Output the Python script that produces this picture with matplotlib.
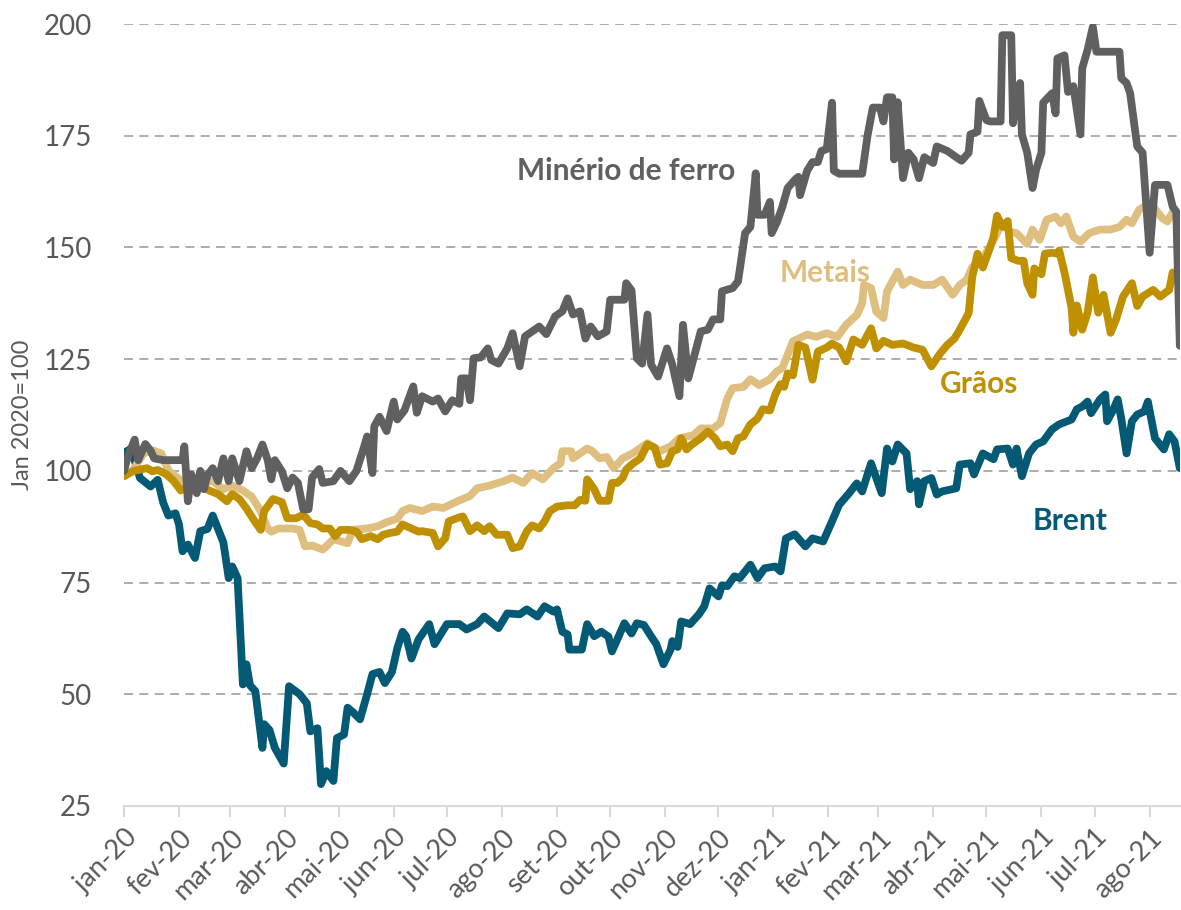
import pandas as pd
import matplotlib.pyplot as plt

plt.rcParams['font.family'] = ['Lato', 'DejaVu Sans']

# (days since 1 jan 2020, index Jan 2020 = 100)
brent = [
    (0, 104), (4, 105), (9, 98.4), (15, 96.5), (19, 98), (22, 93), (25, 90), (29, 90.5),
    (31, 88), (33, 82), (36, 83.5), (40, 80.5), (43, 86.5), (47, 87), (50, 90), (52, 88),
    (56, 84), (59, 76), (61, 78.6), (64, 76), (67, 52.2), (69, 56.7), (71, 52), (74, 50.7),
    (78, 38), (79, 43.3), (82, 42), (85, 38), (90, 34.5), (93, 51.8), (99, 50), (103, 48),
    (105, 41.7), (109, 42.4), (111, 29.9), (114, 32.8), (118, 30.6), (120, 40.2), (124, 41),
    (126, 47), (129, 46), (133, 44.4), (137, 50), (140, 54.5), (144, 55), (147, 52.5),
    (151, 55), (154, 60.3), (157, 64), (159, 63), (162, 58), (166, 62.3), (172, 65.7),
    (175, 61.2), (182, 65.7), (189, 65.7), (193, 64.5), (199, 65.7), (203, 67.4), (211, 64.8),
    (216, 68.1), (223, 67.9), (227, 69), (233, 67.4), (237, 69.7), (242, 68.5), (244, 69),
    (247, 64), (250, 63.4), (251, 60), (258, 60), (261, 65.7), (265, 63), (269, 64),
    (273, 62.9), (275, 59.6), (282, 65.9), (286, 63.6), (289, 65.9), (293, 65.5), (297, 63),
    (300, 61.2), (304, 56.7), (308, 60), (309, 61.9), (312, 60.6), (314, 66.3), (319, 65.7),
    (324, 67.9), (327, 69.7), (330, 73.7), (335, 71.9), (337, 74.4), (340, 74.2), (344, 76.4),
    (347, 76), (353, 79), (357, 76), (361, 78.2), (367, 78.6), (370, 77.5), (373, 84.9),
    (378, 85.8), (384, 83.1), (388, 84.9), (394, 84.2), (399, 88.7), (403, 92.4), (408, 94.7),
    (413, 97.2), (416, 95.4), (421, 101.7), (427, 95), (430, 105), (433, 102.1), (436, 105.9),
    (441, 103.9), (443, 95.9), (447, 97.7), (448, 92.5), (451, 97.7), (455, 98.4), (458, 94.7),
    (461, 95.4), (469, 96.1), (471, 101.4), (477, 101.7), (479, 99.2), (484, 103.9),
    (490, 102.6), (492, 104.8), (498, 105), (501, 101.4), (503, 105), (506, 98.8),
    (510, 103.9), (514, 105.9), (518, 106.6), (523, 109.3), (527, 110.4), (534, 111.5),
    (537, 113.8), (540, 114.4), (543, 115.5), (545, 112.9), (550, 116), (553, 117.1),
    (554, 111.1), (557, 113.3), (560, 116), (562, 111.7), (565, 103.9), (568, 111.1),
    (571, 112.6), (575, 113.3), (577, 115.5), (581, 107.3), (586, 104.8), (589, 108.2),
    (592, 106.6), (595, 100.6),
]

minerio = [
    (0, 100), (2, 103), (6, 107), (8, 102.4), (12, 106), (15, 104.5), (17, 102.8), (22, 102.4),
    (33, 102.4), (34, 105.5), (36, 93.2), (38, 99.2), (41, 95), (43, 100), (45, 95.9), (47, 99),
    (50, 100.6), (53, 97.7), (56, 102.8), (59, 97.7), (61, 102.8), (65, 97.7), (69, 104.4),
    (72, 100.6), (75, 102.8), (78, 105.9), (81, 102.4), (83, 98.1), (85, 102.4), (89, 99.9),
    (92, 96.1), (95, 98.5), (98, 97.3), (101, 91.4), (104, 91.4), (106, 98.5), (110, 100.4),
    (112, 97.3), (118, 97.7), (122, 100), (127, 97.7), (131, 100), (135, 105), (137, 107.7),
    (140, 99.5), (141, 109.9), (144, 112.1), (148, 108.9), (152, 115.5), (154, 111.5),
    (158, 113.5), (163, 118.9), (165, 113), (168, 116.7), (174, 115.5), (177, 116.2),
    (181, 113.3), (185, 115.8), (189, 115), (190, 120.7), (193, 120.7), (195, 115.8),
    (197, 125.2), (201, 125.4), (205, 127.4), (207, 124.8), (211, 124), (216, 127.4),
    (219, 130.8), (223, 123.4), (226, 130.1), (230, 131.2), (234, 132.3), (238, 130.6),
    (243, 134.6), (247, 135.7), (250, 138.6), (253, 135), (257, 135.7), (260, 129.6),
    (263, 132.3), (267, 130.1), (272, 131.2), (274, 138.3), (282, 138.3), (283, 142),
    (286, 140.4), (289, 125.2), (292, 124), (295, 135), (297, 123.8), (301, 121.1),
    (306, 127.4), (309, 123.8), (313, 116.7), (315, 132.7), (318, 120.7), (321, 125.2),
    (325, 131.2), (329, 131.6), (332, 133.9), (336, 133.9), (337, 140.2), (343, 140.9),
    (346, 142.4), (347, 145), (350, 153.2), (353, 154.6), (356, 166.6), (357, 157.3),
    (361, 157.3), (364, 160.2), (365, 153.2), (368, 155.7), (371, 159.1), (374, 163.3),
    (378, 165.1), (380, 165.8), (381, 161.7), (385, 167.2), (388, 169.1), (391, 169.1),
    (393, 171.6), (396, 172), (399, 182.4), (400, 167.2), (403, 166.5), (416, 166.5),
    (419, 175), (422, 181.3), (426, 181.3), (428, 178.2), (430, 183.6), (433, 183.6),
    (434, 169.7), (436, 182.5), (439, 165.5), (442, 171.2), (445, 169.7), (448, 165.5),
    (451, 170.2), (456, 168.9), (458, 172.6), (464, 171.6), (469, 170.2), (472, 169.4),
    (476, 171.2), (477, 175.3), (481, 175.9), (482, 182.8), (486, 178.5), (488, 178.2),
    (494, 178.2), (495, 197.5), (500, 197.5), (501, 177.8), (503, 184.5), (505, 186.8),
    (506, 175.3), (509, 171.2), (512, 163.3), (514, 167.4), (517, 171.2), (518, 182.4),
    (523, 184.5), (525, 180), (526, 192.3), (530, 193), (532, 184.8), (535, 186.1),
    (539, 175.3), (540, 190.1), (543, 194.2), (546, 199.4), (548, 193.8), (561, 193.8),
    (562, 187.9), (565, 186.8), (567, 184.5), (571, 172.6), (574, 171.2), (578, 148.8),
    (581, 164), (588, 164), (591, 159.1), (593, 158), (595, 128),
]

metais = [
    (0, 98.8), (5, 100.1), (11, 103.9), (16, 104.6), (21, 103.9), (25, 100.1), (29, 98.8),
    (33, 97.7), (39, 97.3), (45, 97.5), (50, 97.7), (56, 95.9), (61, 96.7), (67, 95.6),
    (72, 94.2), (77, 91), (81, 87.1), (83, 86.4), (87, 87.1), (95, 87.1), (99, 86.8),
    (102, 83.1), (106, 83.3), (112, 82.4), (114, 83.1), (118, 84.7), (126, 83.8), (129, 86.8),
    (137, 87.1), (143, 87.6), (148, 88.5), (154, 89.3), (157, 91), (161, 91.7), (168, 91),
    (174, 92), (180, 91.7), (188, 93.2), (195, 94.4), (199, 96.1), (206, 96.7), (214, 97.7),
    (219, 98.5), (225, 97.3), (230, 99.5), (236, 98.1), (242, 100.6), (246, 101.7),
    (247, 104.4), (252, 104.4), (253, 102.8), (261, 105), (264, 104.4), (268, 102.8),
    (272, 103.1), (276, 100.6), (281, 102.8), (287, 104), (295, 106.2), (302, 104.4),
    (308, 105.5), (313, 107.3), (321, 108), (325, 109.5), (332, 109.5), (336, 110.7),
    (340, 116.2), (343, 118.5), (349, 118.8), (353, 120.5), (358, 119.2), (364, 120.5),
    (368, 122.3), (371, 123), (377, 129), (385, 130.5), (390, 130), (396, 130.8), (402, 130),
    (407, 132.7), (413, 134.9), (416, 137.5), (417, 141.6), (421, 140.9), (424, 135.6),
    (428, 134.2), (430, 140.2), (436, 144.6), (439, 141.6), (443, 142.8), (450, 141.6),
    (456, 141.6), (461, 142.8), (467, 139.4), (471, 141.6), (475, 142.8), (478, 145.6),
    (482, 146.5), (488, 150.1), (492, 153.2), (495, 155.4), (499, 153.5), (503, 153.2),
    (509, 150.8), (512, 154), (516, 151.7), (520, 156.2), (525, 156.9), (528, 155.4),
    (531, 156.9), (535, 152.4), (539, 151.3), (544, 153.2), (550, 154), (556, 154),
    (561, 154.6), (565, 156.2), (568, 155.4), (572, 158.4), (576, 159.4), (580, 159.1),
    (585, 156.6), (588, 155.8), (591, 157.9), (595, 156.9),
]

graos = [
    (0, 98.8), (5, 99.9), (8, 100.2), (13, 100.6), (16, 99.9), (19, 100.2), (24, 99.2),
    (28, 97.7), (32, 95.6), (35, 96.3), (40, 95.9), (43, 96.7), (48, 95.6), (53, 94.8),
    (58, 93.2), (61, 94.8), (65, 93.7), (69, 91.6), (73, 89.1), (77, 86.8), (79, 91),
    (84, 93.7), (89, 93), (92, 89.4), (97, 89.4), (101, 90.2), (105, 88.3), (109, 88),
    (112, 87.1), (116, 87.1), (119, 85.4), (122, 86.8), (127, 86.8), (131, 86.4), (134, 84.7),
    (139, 85.4), (143, 84.7), (146, 85.7), (150, 86.1), (154, 86.4), (157, 88), (162, 87.1),
    (166, 86.4), (168, 86.5), (174, 86.1), (177, 83.1), (181, 84.9), (183, 88.7), (189, 89.6),
    (191, 89.8), (195, 86.5), (199, 87.8), (203, 86.5), (206, 87.6), (210, 85.7), (216, 85.7),
    (219, 82.7), (223, 83.1), (227, 86.5), (230, 87.8), (234, 87.1), (237, 88.7), (240, 91),
    (244, 92), (250, 92.3), (254, 92.3), (257, 93.5), (260, 93.3), (261, 98.1), (265, 95.9),
    (268, 93.3), (273, 93.3), (275, 97.3), (278, 97.3), (281, 98.4), (283, 100.3),
    (287, 101.7), (291, 102.8), (295, 105.9), (299, 105.2), (302, 101.4), (306, 101.7),
    (309, 104.4), (312, 104.8), (314, 107.3), (317, 104.8), (320, 105.9), (325, 107.3),
    (329, 108.8), (333, 107.3), (336, 105.5), (340, 105.9), (343, 104.4), (346, 107.3),
    (349, 107.7), (353, 110.4), (357, 111.7), (360, 113.8), (364, 113.5), (367, 117.1),
    (370, 119.4), (372, 118.8), (374, 121.8), (377, 121.4), (380, 128.2), (384, 127.6),
    (388, 120.4), (391, 126.7), (396, 127.6), (399, 128.5), (403, 127.6), (407, 124.5),
    (411, 129.4), (416, 128.2), (421, 131.9), (424, 127.4), (428, 129.1), (433, 128.2),
    (439, 128.5), (445, 127.6), (450, 127.1), (455, 123.4), (460, 126.3), (464, 128.2),
    (468, 129.6), (471, 131.6), (476, 135.3), (478, 143.3), (481, 148.6), (484, 145.5),
    (487, 148.8), (490, 152.3), (492, 157.1), (495, 154.6), (498, 155.9), (500, 147.6),
    (504, 147), (507, 147), (509, 142), (512, 139.4), (513, 145.3), (517, 144), (519, 148.6),
    (523, 148.8), (526, 148.6), (527, 149.3), (530, 144.4), (534, 136.5), (535, 130.9),
    (537, 137), (540, 131.6), (543, 135.4), (546, 143.3), (549, 135.4), (552, 139.4),
    (556, 130.9), (559, 133.8), (563, 139), (568, 142), (571, 136.9), (574, 139), (580, 140.5),
    (584, 139), (589, 140.5), (591, 144.4), (595, 142),
]

month_names = ['jan', 'fev', 'mar', 'abr', 'mai', 'jun', 'jul', 'ago', 'set', 'out', 'nov', 'dez']

series = [
    ('Brent', brent, '#045a74'),
    ('Metais', metais, '#dfbf80'),
    ('Grãos', graos, '#bf9000'),
    ('Minério de ferro', minerio, '#606060'),
]

# label positions (day, value)
labels = {
    'Minério de ferro': (283, 167),
    'Metais': (395, 144.2),
    'Grãos': (482, 119.4),
    'Brent': (533, 88.7),
}

start = pd.Timestamp('2020-01-01')

fig = plt.figure(figsize=(11.81, 9.10), dpi=100)
ax = fig.add_axes([0.105, 0.1143, 0.894, 0.8593])

for name, pts, color in series:
    days, vals = zip(*pts)
    dates = start + pd.to_timedelta(list(days), unit='D')
    ax.plot(dates, vals, color=color, lw=5.6, solid_joinstyle='round', solid_capstyle='round')
    d, v = labels[name]
    ax.text(start + pd.Timedelta(days=d), v, name, color=color, fontsize=21.5,
            fontweight='bold', ha='center', va='center')

ax.set_ylim(25, 200)
ax.set_yticks(range(25, 201, 25))
ax.set_xlim(start, start + pd.Timedelta(days=595))

ticks = pd.date_range('2020-01-01', '2021-08-01', freq='MS')
ax.set_xticks(ticks)
ax.set_xticklabels([f'{month_names[t.month - 1]}-{t.strftime("%y")}' for t in ticks],
                   rotation=45, ha='right', rotation_mode='anchor')

ax.grid(axis='y', color='#a6a6a6', linestyle=(0, (5, 3.5)), lw=1.3)
ax.set_axisbelow(True)
for s in ['top', 'right', 'left']:
    ax.spines[s].set_visible(False)
ax.spines['bottom'].set_color('#d9d9d9')
ax.spines['bottom'].set_linewidth(1.5)

ax.tick_params(axis='y', length=0, pad=23, labelsize=20, labelcolor='#595959')
ax.tick_params(axis='x', length=8, width=1.5, color='#d9d9d9', pad=6,
               labelsize=19.5, labelcolor='#595959')

ax.set_ylabel('Jan 2020=100', fontsize=17, color='#595959')
ax.yaxis.set_label_coords(-0.086, 0.5)

fig.savefig('out.png', dpi=100)
